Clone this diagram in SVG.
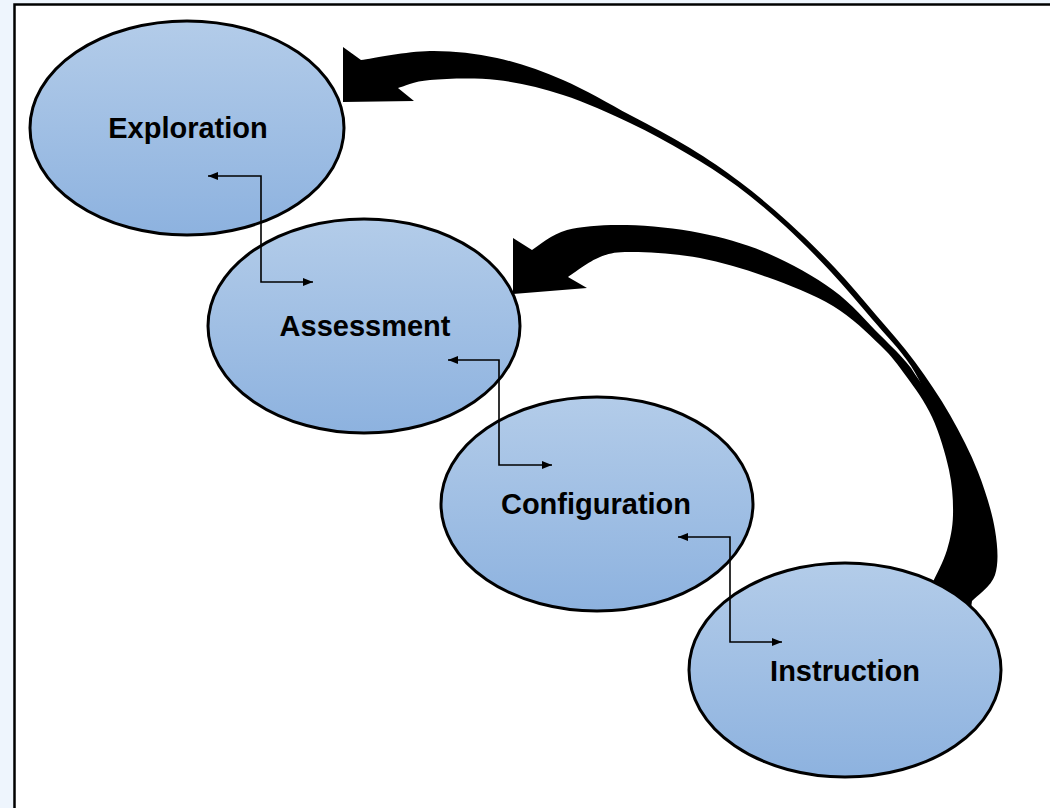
<svg xmlns="http://www.w3.org/2000/svg" width="1050" height="808" viewBox="0 0 1050 808">
<defs>
<linearGradient id="fill" x1="0" y1="0" x2="0" y2="1">
<stop offset="0" stop-color="#b3cce9"/>
<stop offset="1" stop-color="#8db2df"/>
</linearGradient>
<marker id="ah" viewBox="0 0 10 8" refX="10" refY="4" markerWidth="10" markerHeight="8" markerUnits="userSpaceOnUse" orient="auto-start-reverse">
<path d="M0,0 L10,4 L0,8 Z" fill="#000"/>
</marker>
<style>
.node ellipse{fill:url(#fill);stroke:#000;stroke-width:3}
.node text{font-family:"Liberation Sans",Arial,sans-serif;font-weight:bold;font-size:29px;fill:#000;text-anchor:middle}
.big{fill:#000;stroke:none}
.elbow{fill:none;stroke:#000;stroke-width:1.6;marker-start:url(#ah);marker-end:url(#ah)}
</style>
</defs>
<rect x="0" y="0" width="1050" height="808" fill="#eef5fd"/>
<rect x="14.5" y="4.5" width="1100" height="900" fill="#fff" stroke="#000" stroke-width="2.5"/>
<g id="curved-connectors">
<path id="arrow-to-exploration" class="big" d="M343,47 L361,60 C372.5,58.5 407.3,51.3 430,51 C452.7,50.7 474.8,53.2 497,58 C519.2,62.8 540.8,70.5 563,80 C585.2,89.5 608.8,103.7 630,115 C651.2,126.3 671.7,136.8 690,148 C708.3,159.2 723.7,169.7 740,182 C756.3,194.3 772.2,207.7 788,222 C803.8,236.3 820.3,252.5 835,268 C849.7,283.5 862.7,299.3 876,315 C889.3,330.7 902.7,345.3 915,362 C927.3,378.7 939.5,396.7 950,415 C960.5,433.3 970.5,452.8 978,472 C985.5,491.2 992.2,512.8 995,530 C997.8,547.2 998.8,563.2 995,575 C991.2,586.8 975.8,596.7 972,601 L968,630 L950,628 L955,600 C957.2,595.8 965.5,586.7 968,575 C970.5,563.3 971.7,546.8 970,530 C968.3,513.2 963.7,492.7 958,474 C952.3,455.3 943.8,436 936,418 C928.2,400 921.7,382.5 911,366 C900.3,349.5 885.3,334.7 872,319 C858.7,303.3 845.5,287.5 831,272 C816.5,256.5 800.7,240.3 785,226 C769.3,211.7 753.5,198.2 737,186 C720.5,173.8 703.8,163.5 686,153 C668.2,142.5 650.5,132.7 630,123 C609.5,113.3 585.2,102.2 563,95 C540.8,87.8 519.2,82.5 497,80 C474.8,77.5 446.5,78.7 430,80 C413.5,81.3 403.3,86.7 398,88 L414,101 L343,102 Z"/>
<path id="arrow-to-assessment" class="big" d="M513,238 L532,250 C537.8,246.7 551.2,234.2 567,230 C582.8,225.8 604.8,224.5 627,225 C649.2,225.5 676.7,228.3 700,233 C723.3,237.7 744.8,243.5 767,253 C789.2,262.5 814.2,276.3 833,290 C851.8,303.7 867,322 880,335 C893,348 899.7,353.8 911,368 C921.5,385.7 937.5,401.7 948,420 C958.5,438.3 966.8,455.7 974,474 C981.2,492.3 988.2,513.3 991,530 C993.8,546.7 994.7,562.3 991,574 C987.3,585.7 972.7,595.7 969,600 L962,630 L925,615 L933,582 C935.3,576.7 943.7,561.2 947,550 C950.3,538.8 952.7,528.3 953,515 C953.3,501.7 952.5,486.3 949,470 C945.5,453.7 939.2,432.7 932,417 C924.8,401.3 914.7,388 906,376 C897.3,364 892.2,356.7 880,345 C867.8,333.3 851.8,317.3 833,306 C814.2,294.7 789.2,285 767,277 C744.8,269 722.3,262.2 700,258 C677.7,253.8 649.7,252.2 633,252 C616.3,251.8 610.8,252.8 600,257 C589.2,261.2 573.3,273.7 568,277 L587,288 L513,294 Z"/>
</g>
<g id="node-exploration" class="node">
<ellipse cx="187" cy="128" rx="157" ry="107"/>
<text x="188" y="138">Exploration</text>
</g>
<g id="node-assessment" class="node">
<ellipse cx="364" cy="326" rx="156" ry="107"/>
<text x="365" y="336">Assessment</text>
</g>
<g id="node-configuration" class="node">
<ellipse cx="597" cy="504" rx="156" ry="107"/>
<text x="596" y="514">Configuration</text>
</g>
<g id="node-instruction" class="node">
<ellipse cx="845" cy="670" rx="156" ry="107"/>
<text x="845" y="681">Instruction</text>
</g>
<g id="connectors">
<path class="elbow" d="M208,176 H261 V282 H313"/>
<path class="elbow" d="M448,360 H499 V465 H552"/>
<path class="elbow" d="M678,537 H730 V642 H782"/>
</g>
</svg>
